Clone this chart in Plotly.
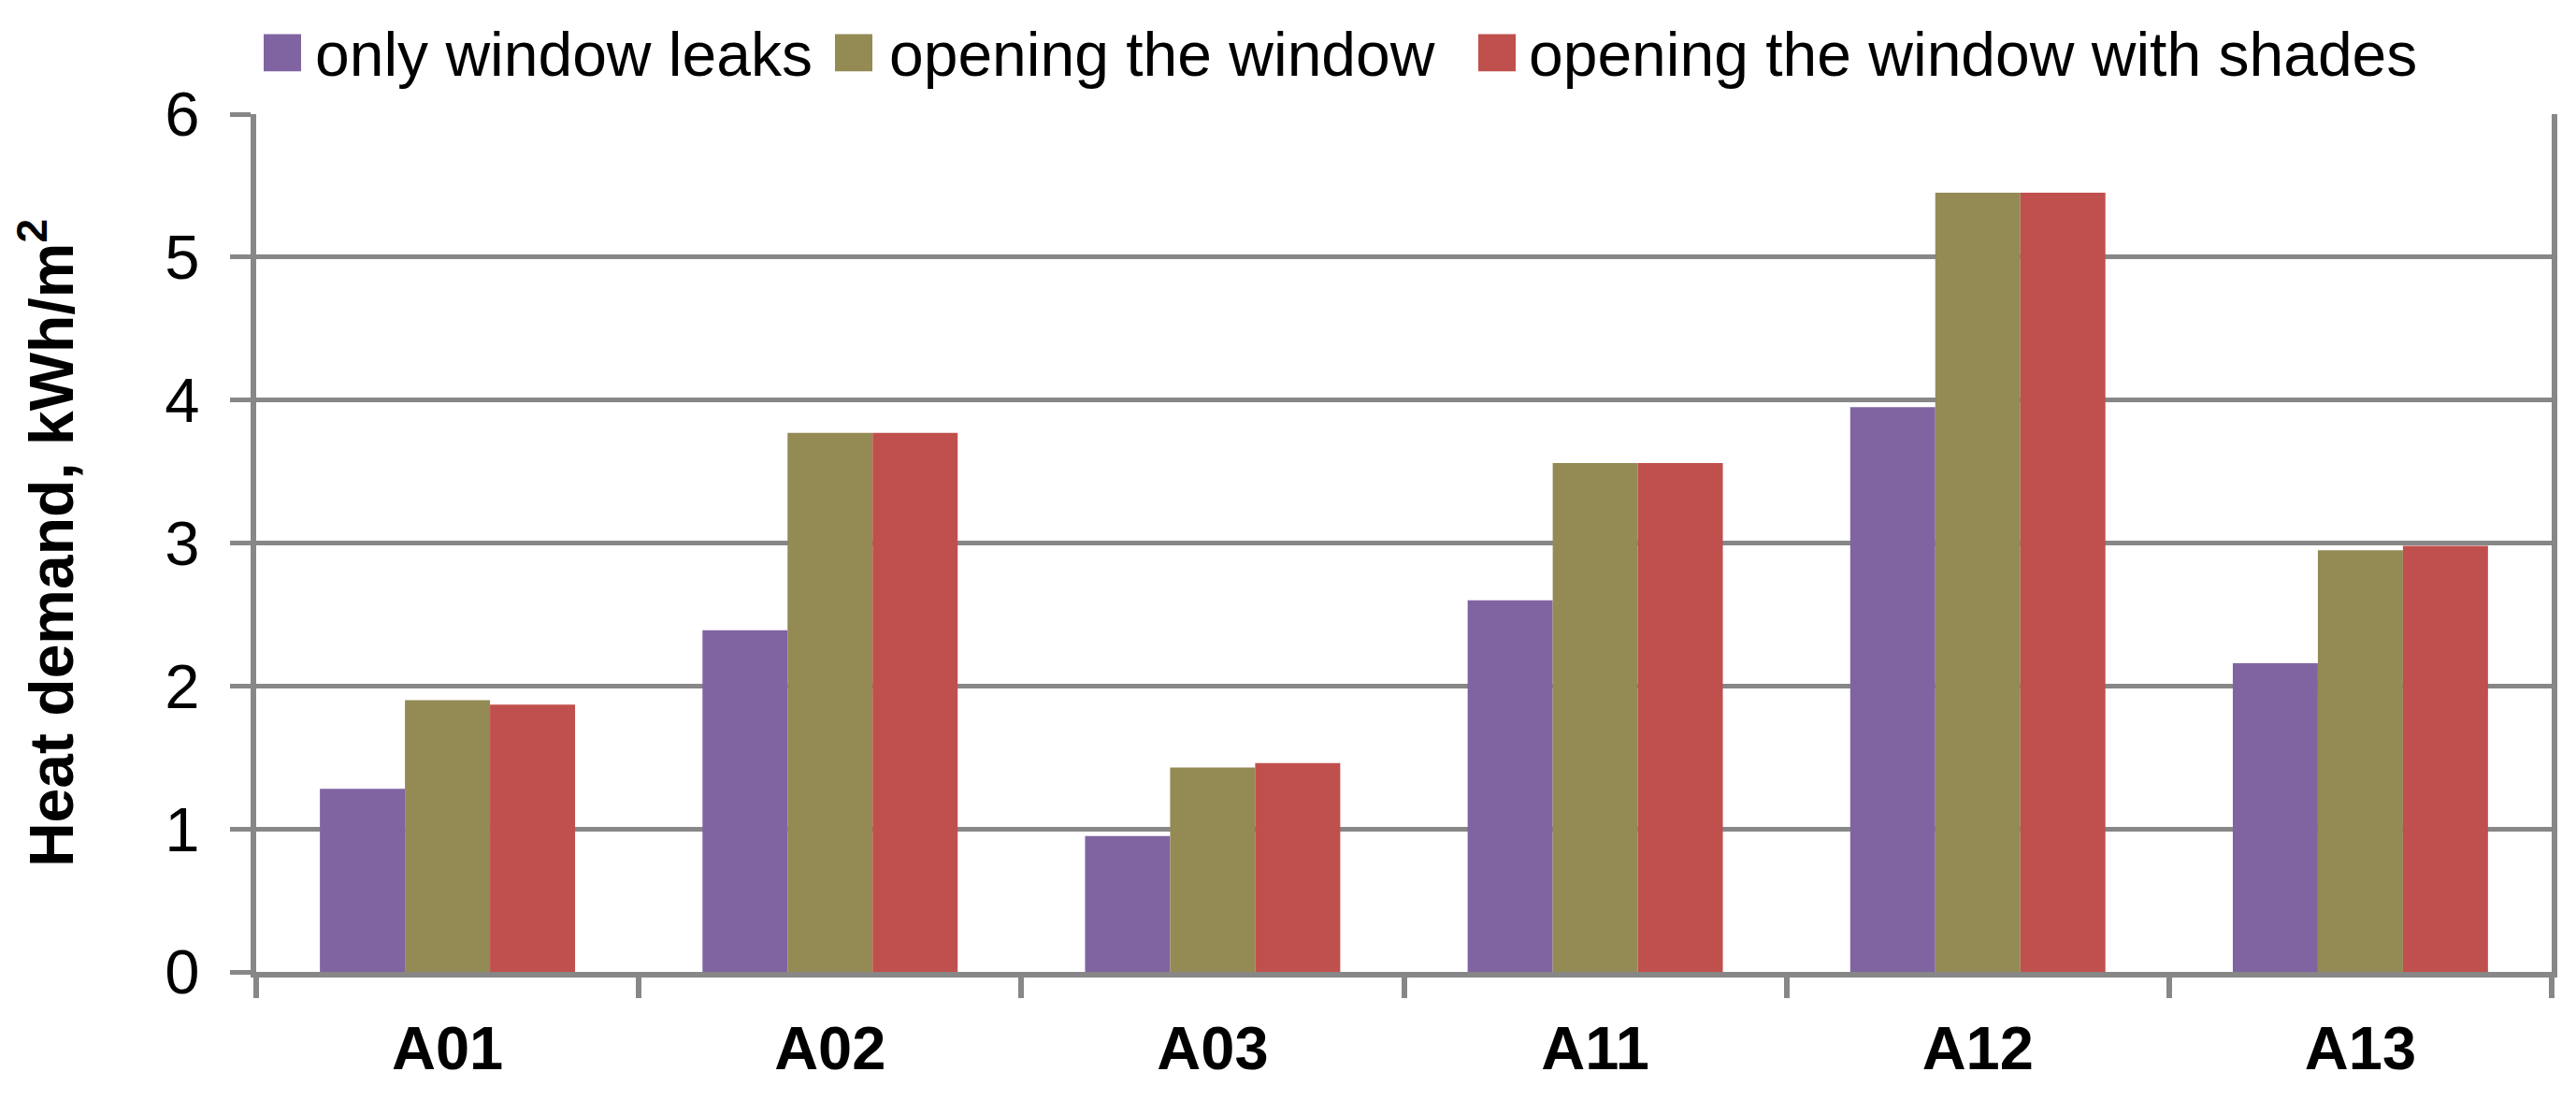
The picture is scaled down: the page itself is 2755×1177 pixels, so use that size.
import plotly.graph_objects as go

categories = ["A01", "A02", "A03", "A11", "A12", "A13"]
series_names = ["only window leaks", "opening the window", "opening the window with shades"]
only_leaks = [1.28, 2.39, 0.95, 2.60, 3.95, 2.16]
opening = [1.90, 3.77, 1.43, 3.56, 5.45, 2.95]
opening_shades = [1.87, 3.77, 1.46, 3.56, 5.45, 2.98]
y_ticks = [0, 1, 2, 3, 4, 5, 6]
colors = ["#8064A2", "#948A54", "#C0504D"]

# page is rendered with the browser's default 8px body margin
OFF = 8
W, H = 2755 - 2 * OFF, 1177 - 2 * OFF
# desired page positions of the plot area
PL, PR, PT, PB = 274, 2729, 122, 1044
L, T = PL - OFF, PT - OFF
R = W - (PR - OFF)
B = H - (PB - OFF)
PW, PH = W - L - R, H - T - B
FONT = "Liberation Sans, Arial, sans-serif"
GRID = "#878787"

fig = go.Figure()
for name, vals, col in zip(series_names, [only_leaks, opening, opening_shades], colors):
    fig.add_trace(go.Bar(x=categories, y=vals, name=name, marker=dict(color=col, line=dict(width=0))))

def px_x(p):
    return (p - OFF - L) / PW

def px_y(p):
    return (H - B - (p - OFF)) / PH

# custom legend (large square swatches like the original); page-pixel positions
legend_items = [(282, 335), (893, 949), (1581, 1633)]
for (mx, tx), name, col in zip(legend_items, series_names, colors):
    fig.add_shape(type="rect", xref="paper", yref="paper",
                  x0=px_x(mx), x1=px_x(mx + 40), y0=px_y(76), y1=px_y(36),
                  fillcolor=col, line=dict(width=0))
    fig.add_annotation(xref="paper", yref="paper", x=px_x(tx), y=px_y(58),
                       xanchor="left", yanchor="middle", text=name, showarrow=False,
                       font=dict(family=FONT, size=66, color="black"))

fig.update_layout(
    width=W, height=H,
    margin=dict(l=L, r=R, t=T, b=B, pad=0),
    paper_bgcolor="white", plot_bgcolor="white",
    barmode="group", bargap=0.333, bargroupgap=0,
    showlegend=False,
    font=dict(family=FONT, color="black"),
)
fig.update_xaxes(
    type="category", tickson="boundaries", ticks="outside", ticklen=22, tickwidth=6, tickcolor=GRID,
    showline=True, linecolor=GRID, linewidth=6, showgrid=False,
    tickfont=dict(family=FONT, size=65, color="black", weight="bold"),
    ticklabelstandoff=20,
)
fig.update_yaxes(
    range=[0, 6], tickvals=y_ticks, ticks="outside", ticklen=22, tickwidth=5, tickcolor=GRID,
    showline=True, mirror=True, linecolor=GRID, linewidth=6,
    showgrid=True, gridcolor=GRID, gridwidth=5, zeroline=False,
    tickfont=dict(family=FONT, size=67, color="black"),
    ticklabelstandoff=19,
    title=dict(text="Heat demand, kWh/m<sup>2</sup>", standoff=104,
               font=dict(family=FONT, size=66, color="black", weight="bold")),
)

fig.write_html("out.html")
